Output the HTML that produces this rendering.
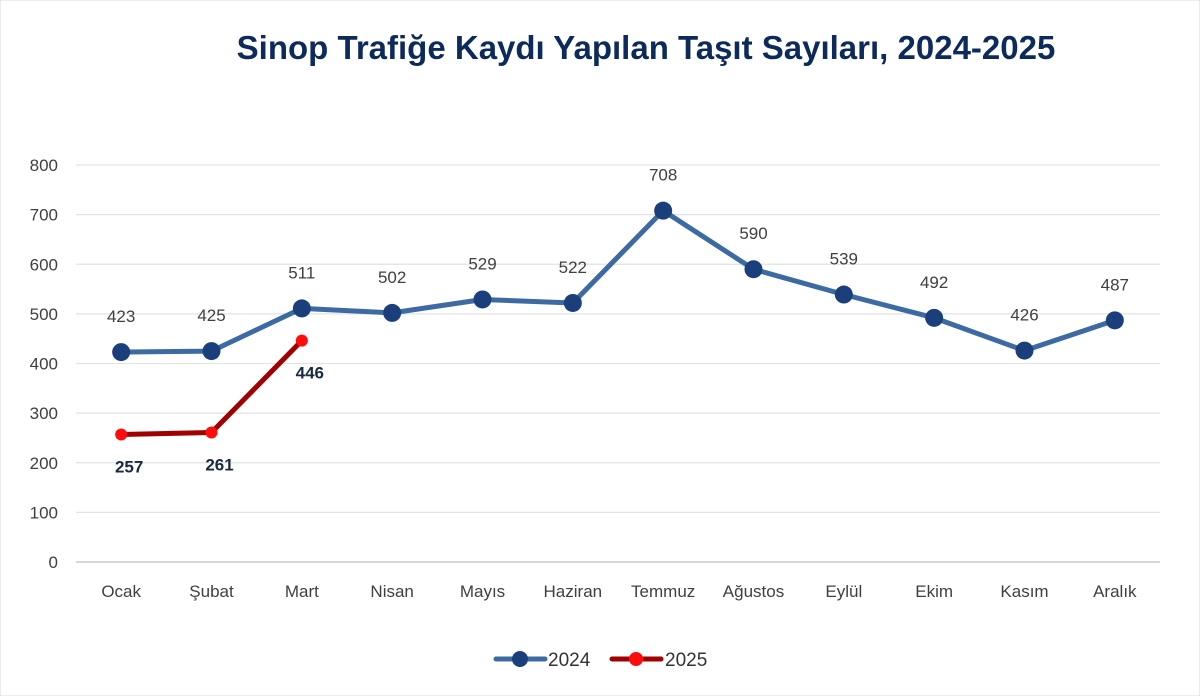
<!DOCTYPE html>
<html><head><meta charset="utf-8"><style>
body{margin:0;background:#fff;}
svg{display:block;font-family:"Liberation Sans",sans-serif;}
</style></head><body>
<svg id="chart" width="1200" height="696" xmlns="http://www.w3.org/2000/svg">
<rect x="0" y="0" width="1200" height="696" fill="#fff" stroke="#d9d9d9"/>
<text x="646" y="59" text-anchor="middle" font-size="33" font-weight="bold" fill="#0d2a5c">Sinop Trafiğe Kaydı Yapılan Taşıt Sayıları, 2024-2025</text>
<g id="grid"></g><g id="axes"></g><g id="series"></g>
<g>
<g>
<line x1="496" y1="659" x2="545" y2="659" stroke="#3d6aa3" stroke-width="5" stroke-linecap="round"/>
<circle cx="520" cy="659" r="8" fill="#1a3f7a"/>
<text x="548" y="666" font-size="19" fill="#333">2024</text></g>
<g>
<line x1="612" y1="659" x2="661" y2="659" stroke="#a00000" stroke-width="5" stroke-linecap="round"/>
<circle cx="636" cy="659" r="7" fill="#ff0d0d"/>
<text x="665" y="666" font-size="19" fill="#333">2025</text></g>
</g>
</svg>
<script>
const categories=["Ocak","Şubat","Mart","Nisan","Mayıs","Haziran","Temmuz","Ağustos","Eylül","Ekim","Kasım","Aralık"];
const values2024=[423,425,511,502,529,522,708,590,539,492,426,487];
const values2025=[257,261,446];
const yTicks=[0,100,200,300,400,500,600,700,800];
const NS="http://www.w3.org/2000/svg";
const x0=76,x1=1160,y0=562,y1=165,yMax=800;
const bw=(x1-x0)/categories.length;
const xs=i=>x0+bw*(i+0.5);
const ys=v=>y0-(v/yMax)*(y0-y1);
function mk(tag,attrs,parent,txt){const e=document.createElementNS(NS,tag);for(const k in attrs)e.setAttribute(k,attrs[k]);if(txt!==undefined)e.textContent=txt;parent.appendChild(e);return e;}
const grid=document.getElementById('grid'),axes=document.getElementById('axes'),ser=document.getElementById('series');
yTicks.forEach(t=>{
 const l=mk('line',{x1:x0,x2:x1,y1:ys(t),y2:ys(t),stroke:t===0?'#bfbfbf':'#e3e3e3','stroke-width':1.3},grid);
 
 
 const tx=mk('text',{x:58,y:ys(t)+6,'text-anchor':'end','font-size':17,fill:'#404040'},axes,String(t));
 
 
});
categories.forEach((c,i)=>{
 const tx=mk('text',{x:xs(i),y:597,'text-anchor':'middle','font-size':17,fill:'#404040'},axes,c);
 
 
});
function series(vals,lineCol,dotCol,r,name,labelAbove,bold){
 const pts=vals.map((v,i)=>xs(i)+','+ys(v)).join(' ');
 const pl=mk('polyline',{points:pts,fill:'none',stroke:lineCol,'stroke-width':5,'stroke-linejoin':'round'},ser);
 
 
 vals.forEach((v,i)=>{
  const c=mk('circle',{cx:xs(i),cy:ys(v),r:r,fill:dotCol},ser);
  
  
  const ly=labelAbove?ys(v)-30:ys(v)+38;
  const t=mk('text',{x:xs(i)+(labelAbove?0:8),y:ly,'text-anchor':'middle','font-size':17,fill:bold?'#1a2a40':'#404040','font-weight':bold?'bold':'normal'},ser,String(v));
  
  
 });
}
series(values2024,'#3d6aa3','#1a3f7a',9,'2024',true,false);
series(values2025,'#a00000','#ff0d0d',6,'2025',false,true);
</script>
</body></html>
